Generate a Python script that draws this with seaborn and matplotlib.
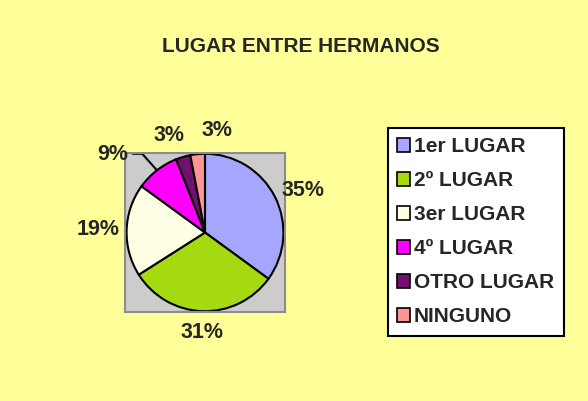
import numpy as np
import matplotlib
matplotlib.use("Agg")
import matplotlib.pyplot as plt
import seaborn as sns

categories = ["1er LUGAR", "2º LUGAR", "3er LUGAR", "4º LUGAR", "OTRO LUGAR", "NINGUNO"]
values = [35, 31, 19, 9, 3, 3]
pct_labels = ["35%", "31%", "19%", "9%", "3%", "3%"]
colors = ["#A6A6FF", "#A6DA10", "#FFFFE6", "#FF00FF", "#72106E", "#FF9494"]

sns.set_style("white")
plt.rcParams["font.family"] = ["Liberation Sans", "DejaVu Sans"]

BG = "#FFFF99"
fig = plt.figure(figsize=(5.88, 4.01), dpi=100, facecolor=BG)

# plot area (gray square behind the pie)
ax = fig.add_axes([125 / 588, 1 - 312 / 401, 160 / 588, 159 / 401])

wedges, _ = ax.pie(
    values, colors=sns.color_palette(colors), startangle=90, counterclock=False,
    wedgeprops=dict(edgecolor="black", linewidth=1.5), frame=True,
)
ax.set_facecolor("#CCCCCC")
for s in ax.spines.values():
    s.set_visible(True)
    s.set_edgecolor("#8C8C8C")
    s.set_linewidth(1.5)
ax.set_xlim(-1.02, 1.02)
ax.set_ylim(-1.01, 1.01)
ax.set_aspect("auto")
ax.set_xticks([])
ax.set_yticks([])

# percentage labels outside the pie
starts = np.cumsum([0] + values[:-1])
mids = 90 - 3.6 * (starts + np.array(values) / 2)
dists = [1.36, 1.27, 1.36, 1.54, 1.31, 1.30]
shift = [-4, 0, 0, 12, 4, -12]
for lab, ang, d, sh in zip(pct_labels, mids, dists, shift):
    a = np.deg2rad(ang + sh)
    ax.text(d * np.cos(a), d * np.sin(a), lab, ha="center", va="center",
            fontsize=15.5, fontweight="bold", clip_on=False)

# leader line for the 9% slice
a9 = np.deg2rad(mids[3])
ax.plot([-0.92, -0.80, np.cos(a9) * 1.0], [1.0, 1.0, np.sin(a9) * 1.0],
        color="black", lw=1.5, clip_on=False)

fig.text(0.511, 1 - 47 / 401, "LUGAR ENTRE HERMANOS", ha="center", va="center",
         fontsize=15, fontweight="bold")

leg = fig.legend(
    wedges, categories, loc="upper left",
    bbox_to_anchor=(388 / 588, 1 - 128 / 401), borderaxespad=0,
    frameon=True, fancybox=False, edgecolor="black", facecolor="white",
    prop=dict(size=15, weight="bold"), handlelength=0.6, handleheight=0.6,
    handletextpad=0.2, labelspacing=0.72, borderpad=0.45,
)
leg.get_frame().set_linewidth(1.5)
leg.get_frame().set_alpha(1)
for h in leg.legend_handles:
    h.set_linewidth(1.2)

fig.savefig("out.png", dpi=100, facecolor=BG)
